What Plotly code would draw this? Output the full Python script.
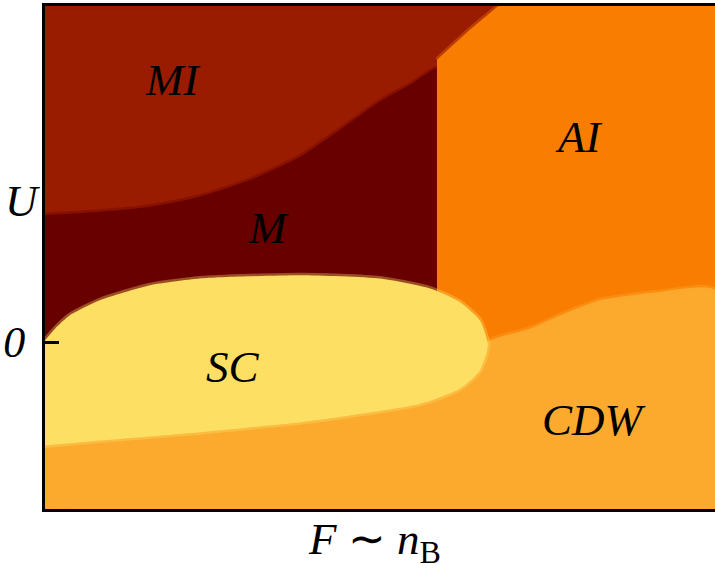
import plotly.graph_objects as go

# Phase-boundary data: F (x, arbitrary units 0..10) and U (0 at the tick)
m_F = [0, 0.82, 1.57, 2.31, 3.06, 3.81, 4.40, 5.00, 5.45, 5.90, 5.90, 0]
m_U = [0.76, 0.78, 0.81, 0.87, 0.97, 1.11, 1.27, 1.44, 1.54, 1.64, -0.1, -0.1]

ai_F = [5.85, 6.34, 6.79, 10, 10, 5.85]
ai_U = [1.69, 1.87, 2.02, 2.02, -0.2, -0.2]

cdw_F = [0, 10, 10, 9.18, 8.28, 7.69, 7.24, 6.79, 6.34, 5.30, 2.31, 0]
cdw_U = [-1, -1, 0.31, 0.30, 0.25, 0.16, 0.08, 0.03, -0.04, -0.29, -0.53, -0.59]

sc_F = [0, 0.15, 0.37, 0.82, 1.57, 2.31, 3.81, 5.00, 5.75, 6.19, 6.49, 6.61,
        6.49, 6.19, 5.60, 4.55, 3.81, 2.31, 0.82, 0]
sc_U = [0.01, 0.08, 0.16, 0.25, 0.34, 0.38, 0.40, 0.38, 0.32, 0.24, 0.13, -0.02,
        -0.17, -0.28, -0.37, -0.44, -0.48, -0.54, -0.59, -0.62]

labels = ["MI", "M", "AI", "SC", "CDW"]
label_F = [1.90, 3.34, 7.96, 2.81, 8.19]
label_U = [1.57, 0.68, 1.23, -0.15, -0.47]

col_MI = "#991b00"
col_M = "#680000"
col_AI = "#f97d00"
col_CDW = "#fbaa2e"
col_SC = "#fde063"

def soft(hex_col, a):
    h = hex_col.lstrip("#")
    r, g, b = int(h[0:2], 16), int(h[2:4], 16), int(h[4:6], 16)
    return f"rgba({r},{g},{b},{a})"

fig = go.Figure()
for fx, fu, c, sh in [(m_F, m_U, col_M, "spline"), (ai_F, ai_U, col_AI, "linear"),
                      (cdw_F, cdw_U, col_CDW, "spline"), (sc_F, sc_U, col_SC, "spline")]:
    fig.add_trace(go.Scatter(x=fx, y=fu, fill="toself", fillcolor=c,
                             mode="lines", line=dict(color=soft(c, 0.35), width=5, shape=sh, smoothing=0.6),
                             hoverinfo="skip", showlegend=False))

font = dict(family="Liberation Serif, serif", size=45, color="black")
for t, fx, fu in zip(labels, label_F, label_U):
    fig.add_annotation(x=fx, y=fu, text=f"<i>{t}</i>", showarrow=False, font=font,
                       xanchor="center", yanchor="middle")

fig.add_annotation(xref="paper", yref="paper", x=-0.034, y=0.612, text="<i>U</i>",
                   showarrow=False, font=font, xanchor="center", yanchor="middle")
fig.add_annotation(xref="paper", yref="paper", x=0.4925, y=-0.066,
                   text="<i>F</i> ∼ <i>n</i><sub><span style='font-size:32px'>B</span></sub>",
                   showarrow=False, font=font, xanchor="center", yanchor="middle")

fig.update_layout(
    width=715, height=569,
    margin=dict(l=45, r=0, t=6, b=60),
    paper_bgcolor="white", plot_bgcolor=col_MI,
    showlegend=False,
    xaxis=dict(range=[0, 10], showgrid=False, zeroline=False, showticklabels=False,
               ticks="", showline=True, linecolor="black", linewidth=2.5, mirror=True),
    yaxis=dict(range=[-1, 2.012], showgrid=False, zeroline=False,
               tickvals=[0], ticktext=["<i>0</i>"], ticks="inside", ticklen=14,
               tickwidth=3, tickcolor="black", ticklabelstandoff=8,
               tickfont=dict(family="Liberation Serif, serif", size=44, color="black"),
               showline=True, linecolor="black", linewidth=3),
)

fig.write_html("out.html", config={"displayModeBar": False},
               post_script="document.body.style.margin='0';")
